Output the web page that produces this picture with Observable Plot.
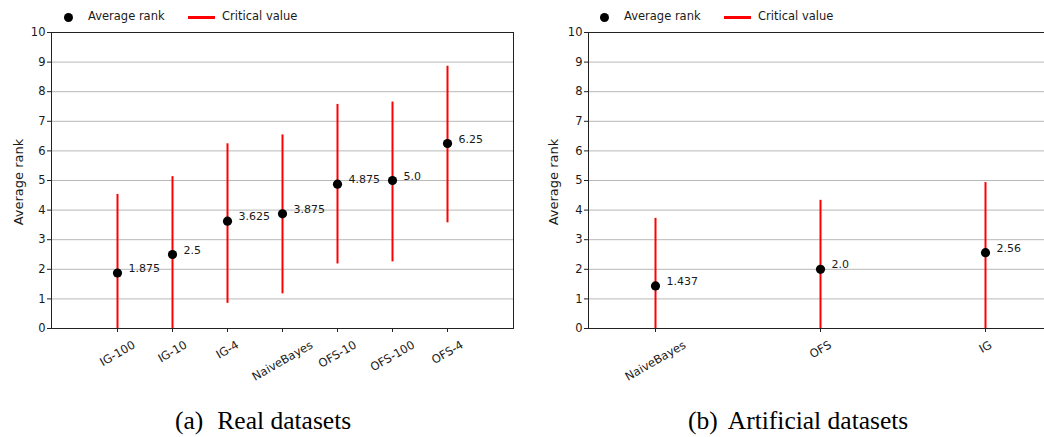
<!DOCTYPE html>
<html>
<head>
<meta charset="utf-8">
<script src="https://cdn.jsdelivr.net/npm/d3@7"></script>
<script src="https://cdn.jsdelivr.net/npm/@observablehq/plot@0.6"></script>
<style>
  html, body { margin: 0; padding: 0; background: #fff; overflow: hidden; }
  #root { position: relative; width: 1044px; height: 437px; overflow: hidden; font-family: "DejaVu Sans", sans-serif; color: #1a1a1a; }
  .panel { position: absolute; top: 0; }
  .panel svg { max-width: none !important; }
  .leg { position: absolute; font-size: 11.5px; line-height: 1; white-space: nowrap; }
  .dot { position: absolute; width: 9px; height: 9px; border-radius: 50%; background: #000; }
  .line { position: absolute; height: 3px; background: #ff0000; }
  .ylab { position: absolute; font-size: 13px; white-space: nowrap; transform: translate(-50%, -50%) rotate(-90deg); }
  .cap { position: absolute; font-family: "Liberation Serif", "Times New Roman", serif; font-size: 25.5px; line-height: 1; white-space: nowrap; color: #000; }
</style>
</head>
<body>
<div id="root"></div>
<script>
// ---- Data ----
const realNames = ["IG-100", "IG-10", "IG-4", "NaiveBayes", "OFS-10", "OFS-100", "OFS-4"];
const realRanks = [1.875, 2.5, 3.625, 3.875, 4.875, 5.0, 6.25];
const realLow = [0, 0, 0.85, 1.17, 2.18, 2.25, 3.57];
const realHigh = [4.53, 5.13, 6.24, 6.54, 7.57, 7.65, 8.86];

const artNames = ["NaiveBayes", "OFS", "IG"];
const artRanks = [1.437, 2.0, 2.56];
const artLow = [0, 0, 0];
const artHigh = [3.72, 4.33, 4.93];

const yTicks = [0, 1, 2, 3, 4, 5, 6, 7, 8, 9, 10];
const captions = [["(a)", "Real datasets"], ["(b)", "Artificial datasets"]];
const legendLabels = ["Average rank", "Critical value"];
const yLabel = "Average rank";

const fmt = v => Number.isInteger(v) ? v.toFixed(1) : String(v);

const canvas = document.createElement("canvas");
const ctx = canvas.getContext("2d");
const tickFont = 11.5;
ctx.font = `${tickFont}px "DejaVu Sans"`;
const measure = s => ctx.measureText(s).width;

function panel({names, ranks, low, high, left, width, marginLeft, marginRight, padding, legendX, ylabX, cap, capX, capGap}) {
  const data = names.map((n, i) => ({name: n, rank: ranks[i], low: low[i], high: high[i], label: fmt(ranks[i])}));
  const labelMarks = names.map(n => {
    const w = measure(n);
    const boxH = w * 0.5 + 0.866 * tickFont * 0.9;
    return Plot.text([n], {
      x: d => d, frameAnchor: "bottom", text: d => d,
      rotate: -30, textAnchor: "middle", lineAnchor: "middle",
      dy: 11 + boxH / 2, fontSize: tickFont, fill: "#1a1a1a"
    });
  });
  const chart = Plot.plot({
    width, height: 395,
    marginLeft, marginRight, marginTop: 32, marginBottom: 67,
    style: {fontFamily: "DejaVu Sans", fontSize: tickFont + "px", color: "#1a1a1a", background: "transparent", maxWidth: "none"},
    x: {type: "point", domain: names, padding},
    y: {domain: [0, 10]},
    marks: [
      Plot.gridY(yTicks, {stroke: "#b8b8b8", strokeOpacity: 1, strokeWidth: 1}),
      Plot.axisY(yTicks, {tickSize: 4, tickPadding: 2, label: null, fontSize: tickFont, stroke: "#222"}),
      Plot.axisX({tickSize: 4, tickFormat: () => "", label: null, stroke: "#222"}),
      ...labelMarks,
      Plot.ruleX(data, {x: "name", y1: "low", y2: "high", stroke: "#ff0000", strokeWidth: 2}),
      Plot.dot(data, {x: "name", y: "rank", r: 4.6, fill: "#000", stroke: null}),
      Plot.text(data, {x: "name", y: "rank", text: "label", dx: 11, dy: -4.5, textAnchor: "start", fontSize: 11, fill: "#1a1a1a"}),
      Plot.frame({stroke: "#222", strokeWidth: 1})
    ]
  });
  const root = document.getElementById("root");
  const div = document.createElement("div");
  div.className = "panel";
  div.style.left = left + "px";
  div.style.width = width + "px";
  div.appendChild(chart);
  root.appendChild(div);

  // legend
  const dot = document.createElement("div");
  dot.className = "dot"; dot.style.left = (left + legendX - 4.5) + "px"; dot.style.top = (17 - 4.5) + "px";
  root.appendChild(dot);
  const t1 = document.createElement("div");
  t1.className = "leg"; t1.textContent = legendLabels[0];
  t1.style.left = (left + legendX + 20) + "px"; t1.style.top = "11px";
  root.appendChild(t1);
  const ln = document.createElement("div");
  ln.className = "line"; ln.style.left = (left + legendX + 120) + "px"; ln.style.top = "15.5px"; ln.style.width = "27px";
  root.appendChild(ln);
  const t2 = document.createElement("div");
  t2.className = "leg"; t2.textContent = legendLabels[1];
  t2.style.left = (left + legendX + 154) + "px"; t2.style.top = "11px";
  root.appendChild(t2);

  // y label
  const yl = document.createElement("div");
  yl.className = "ylab"; yl.textContent = yLabel;
  yl.style.left = (left + ylabX) + "px"; yl.style.top = "182px";
  root.appendChild(yl);

  // caption
  const c = document.createElement("div");
  c.className = "cap";
  c.style.left = capX + "px"; c.style.top = "408px";
  const s1 = document.createElement("span"); s1.textContent = cap[0];
  const s2 = document.createElement("span"); s2.textContent = cap[1]; s2.style.marginLeft = capGap + "px";
  c.appendChild(s1); c.appendChild(s2);
  root.appendChild(c);
}

panel({names: realNames, ranks: realRanks, low: realLow, high: realHigh,
  left: 0, width: 520, marginLeft: 51, marginRight: 7, padding: 1.2,
  legendX: 68, ylabX: 18, cap: captions[0], capX: 175, capGap: 14});
panel({names: artNames, ranks: artRanks, low: artLow, high: artHigh,
  left: 520, width: 540, marginLeft: 68, marginRight: 9, padding: 0.4,
  legendX: 84, ylabX: 33, cap: captions[1], capX: 688, capGap: 10});
</script>
</body>
</html>
